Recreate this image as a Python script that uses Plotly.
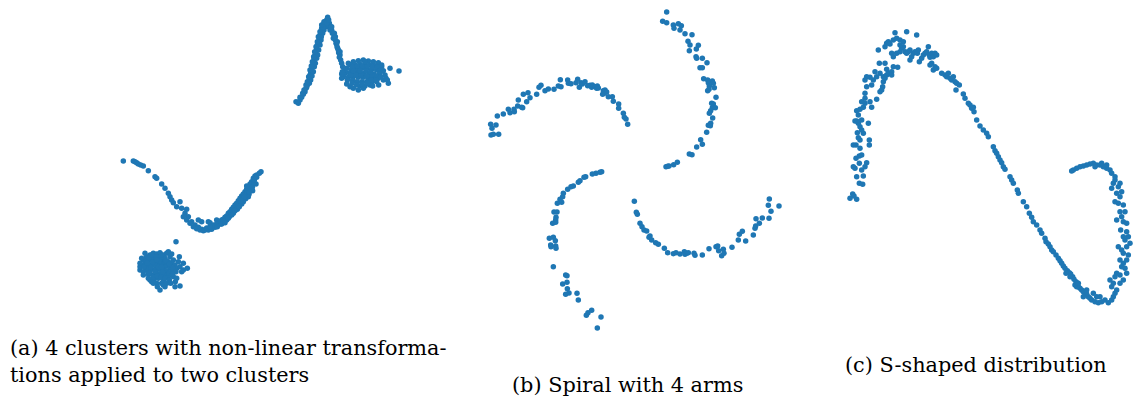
import plotly.graph_objects as go

W, H = 1133, 399
BLUE = "#1f77b4"

# ---------------- Panel (a): 4 clusters ----------------
a_vcurve = [(70,483),(100,483),(105,485),(110,488),(115,492),(122,495),(130,498),(145,512),(165,530),(170,535),
            (185,552),(195,565),(205,580),(210,590),(215,600),(220,608),(230,620),(240,605),(245,625),(255,640),
            (260,628),(265,650),(275,665),(285,675),(295,682),(305,688),(315,690),(325,690),(335,688),(345,682),
            (295,660),(305,665),(325,665),(330,668),(350,660),(355,670),(365,660),(375,652),(385,640),(395,628),
            (405,615),(415,602),(425,588),(435,575),(445,560),(455,545),(465,528),(483,515),(360,665),(370,658),
            (380,648),(390,635),(400,622),(410,610),(420,595),(430,582),(440,568),(450,552),(460,535),(470,525),
            (340,675),(350,672),(380,660),(395,640),(410,625),(420,610),(250,650),(260,660),(270,670),(280,680),
            (290,686),(300,690),(310,692),(320,684),(330,680),(362,672),(372,664),(388,650),(402,632),(415,618),
            (428,600),(442,580),(452,565),(462,548),(400,640),(412,628),(425,612),(437,596),(447,583),(457,562),
            (365,672),(375,668),(385,655),(395,645),(405,632),(418,620),(430,605),(445,590),(458,572),(468,552),
            (352,680),(440,558),(448,575),(463,540),(470,532),(478,520),(433,590),(423,602)]
a_blob1 = [(140,770),(150,765),(160,760),(170,762),(180,758),(190,765),(200,760),(210,770),(220,780),(130,780),
           (145,780),(155,778),(165,775),(175,772),(185,778),(195,775),(205,785),(215,790),(225,795),(125,795),
           (135,792),(148,795),(160,790),(172,788),(182,792),(192,790),(202,798),(212,805),(230,805),(120,810),
           (130,815),(142,810),(155,808),(168,805),(178,808),(190,805),(200,812),(215,815),(240,800),(245,815),
           (130,825),(145,822),(158,825),(170,820),(182,822),(195,825),(205,830),(220,830),(150,840),(162,838),
           (175,835),(190,840),(230,835),(155,845),(185,850),(195,860),(180,870),(240,858),(262,805),(228,725),
           (205,755),(125,775),(120,800),(165,795),(175,800),(185,800),(160,770),(200,795),(195,785),(140,800),
           (150,810),(210,800),(235,785),(250,810),(170,850),(138,785),(152,800),(188,815),(208,820),(165,815),
           (135,760),(147,772),(158,785),(168,770),(178,783),(188,770),(198,782),(208,792),(218,805),(228,815),
           (138,805),(148,818),(160,832),(172,828),(184,832),(196,835),(208,840),(218,822),(226,845),(120,790),
           (132,800),(145,835),(160,850),(172,860),(190,855),(200,850),(212,850),(225,860),(250,790),(238,770),
           (215,762),(185,765),(170,780),(155,765),(142,790)]
a_blob2 = [(760,185),(775,182),(790,180),(805,183),(820,185),(835,188),(750,195),(765,195),(780,193),(795,192),
           (810,195),(825,197),(845,200),(740,205),(755,208),(770,205),(785,205),(800,205),(815,208),(830,210),
           (850,212),(735,220),(748,218),(762,218),(778,218),(792,220),(808,220),(822,222),(838,222),(855,225),
           (730,230),(745,232),(760,230),(775,232),(790,232),(805,235),(820,235),(835,235),(770,245),(785,245),
           (800,245),(815,248),(830,245),(850,240),(865,250),(780,258),(795,258),(810,255),(750,260),(775,270),
           (790,265),(897,213),(725,235),(735,210),(768,212),(798,212),(828,228),(842,215),(758,240),(815,225),
           (745,190),(758,200),(772,198),(787,198),(802,198),(818,200),(832,202),(842,208),(752,225),(768,225),
           (784,225),(800,228),(814,240),(828,240),(842,230),(858,235),(742,240),(756,250),(770,255),(786,252),
           (802,250),(818,258),(836,255),(760,265),(845,195),(795,185),(812,215),(780,212),(760,212),
           (870,205),(862,240),(740,252),(725,222)]
a_peak = [(588,305),(595,310),(600,300),(605,292),(610,283),(615,275),(618,265),(622,255),(625,245),(628,235),
          (630,225),(632,215),(635,205),(638,195),(640,185),(642,175),(645,165),(648,155),(650,145),(652,135),
          (655,125),(658,115),(660,105),(662,95),(665,85),(668,78),(672,70),(675,65),(680,60),(683,52),
          (688,70),(690,78),(695,90),(700,100),(703,110),(706,120),(710,132),(713,145),(716,158),(722,180),
          (728,200),(727,215),(620,262),(628,250),(632,240),(636,228),(640,215),(643,200),(646,190),(650,175),
          (653,165),(656,150),(660,135),(663,120),(668,100),(672,90),(676,80),(685,80),(690,90),(697,100),
          (700,115),(708,130),(711,140),(715,150),(678,72),(684,66),(670,84),(664,110),(658,128),
          (600,292),(608,280),(612,270),(618,255),(622,245),(626,230),(630,210),(634,198),(637,185),(641,170),
          (644,155),(648,140),(652,125),(655,110),(660,95),(665,75),(672,65),(680,68),(686,60),(692,85),
          (695,80),(703,100),(706,110),(712,125),(720,165),(718,172),(725,190),(720,155)]

# ---------------- Panel (b): spiral with 4 arms ----------------
b_arm1 = [(62,373),(66,385),(78,375),(63,405),(70,403),(86,403),(82,348),(100,342),(115,328),(120,338),
          (132,328),(133,335),(145,300),(143,318),(155,322),(158,323),(160,283),(170,305),(174,278),(180,293),
          (200,283),(207,262),(213,256),(225,272),(235,267),(252,268),(265,258),(273,260),(271,239),(293,240),
          (295,250),(303,251),(318,248),(323,238),(328,262),(333,248),(337,252),(345,245),(353,257),(360,256),
          (365,262),(367,255),(377,260),(380,265),(382,258),(385,264),(398,283),(400,272),(403,280),(405,270),
          (410,276),(415,290),(427,290),(430,304),(446,312),(446,325),(460,340),(463,352),(468,357),(473,373)]
b_arm2 = [(590,36),(578,64),(590,68),(610,75),(612,85),(625,71),(634,77),(630,90),(645,101),(666,104),
          (654,124),(660,135),(685,136),(679,147),(658,152),(678,170),(680,175),(697,175),(711,188),(690,203),
          (697,203),(701,236),(713,240),(727,243),(715,248),(730,250),(718,258),(733,263),(713,272),(717,268),
          (738,292),(725,310),(730,312),(727,323),(736,323),(722,332),(718,340),(728,354),(722,370),(715,376),
          (721,377),(710,397),(692,419),(697,433),(680,441),(658,462),(666,464),(622,487),(611,494),(597,498),
          (588,500),(593,499)]
b_arm3 = [(395,515),(390,517),(378,520),(367,522),(347,530),(342,532),(330,542),(325,547),(310,558),(303,560),
          (293,568),(280,580),(278,590),(270,598),(262,610),(275,607),(252,636),(261,636),(258,652),(257,660),
          (248,670),(257,667),(238,715),(250,712),(256,722),(242,735),(243,740),(257,738),(258,745),(250,800),
          (287,825),(291,827),(278,852),(291,847),(292,866),(297,879),(287,883),(321,880),(325,900),(349,946),
          (354,938),(365,931),(393,951),(382,984)]
b_arm4 = [(493,604),(499,637),(502,643),(510,670),(516,680),(522,690),(530,693),(540,708),(537,712),(545,720),
          (557,728),(565,733),(583,745),(593,758),(610,761),(618,758),(630,762),(643,755),(645,763),(650,760),
          (655,758),(672,760),(675,766),(697,765),(717,746),(738,740),(743,738),(746,752),(755,767),(760,748),
          (762,760),(786,742),(805,720),(808,703),(817,694),(827,723),(850,705),(855,685),(857,678),(858,656),
          (868,670),(877,654),(897,655),(895,616),(898,597),(903,634),(927,618)]

# ---------------- Panel (c): S-shaped distribution ----------------
c_left = [(60,535),(68,522),(80,538),(72,528),(88,490),(98,493),(80,470),(100,468),(95,450),(105,440),
          (110,428),(75,445),(70,440),(88,430),(78,415),(88,408),(95,405),(90,385),(78,375),(70,375),
          (90,360),(85,353),(118,375),(118,360),(100,340),(82,338),(95,330),(90,320),(85,310),(80,303),
          (75,303),(95,300),(115,310),(85,285),(80,272),(90,268),(100,262),(105,250),(95,245),(105,235),
          (120,245),(125,262),(140,238),(105,220),(110,200),(125,195),(130,180),(120,172),(110,170),(105,180),
          (150,215),(155,210),(158,200),(160,185),(160,170),(165,175),(170,165),(150,160),(140,170),(135,155),
          (148,130),(165,130),(170,148),(175,160),(185,155),(185,165),(190,140),(203,142),(145,90),(165,80),
          (170,70),(175,65),(180,72),(190,60),(200,55),(195,38),(210,60),(220,65),(230,35),(260,45),
          (185,100),(190,110),(200,100),(210,95),(215,85),(220,80),(210,75),(225,95),(230,100),(235,95),
          (240,90),(240,120),(245,110),(250,100),(255,95),(262,100),(265,90),(268,125),(275,115),(280,105),
          (285,100),(290,95),(295,80),(298,105),(300,112),(305,100),(310,110),(315,100),(320,105),(305,130),
          (300,135),(315,140),(310,150),(320,145)]
c_diag = [(335,160),(345,165),(350,170),(355,160),(360,175),(365,180),(370,170),(375,185),(380,190),(378,210),
          (388,195),(400,222),(405,235),(415,250),(420,255),(425,265),(430,262),(432,275),(440,300),(450,318),
          (460,330),(470,340),(475,350),(490,380),(495,392),(500,400),(505,410),(510,420),(515,428),(520,440),
          (525,448),(540,470),(545,480),(550,490),(562,510),(565,520),(580,545),(590,560),(598,580),(605,592),
          (610,605),(620,615),(630,630),(635,640),(645,655),(648,665),(655,672),(660,680),(665,690),(670,695),
          (678,705),(685,715),(690,722),(695,730),(700,738),(705,745),(712,752),(718,758),(722,762),(728,770),
          (732,778),(738,785),(742,790),(745,800),(750,805),(755,810),(760,815),(765,820),(770,822),(775,830),
          (780,835),(785,840),(795,845),(805,848),(815,845),(825,840),(835,848),(845,840),(850,830),(855,820),
          (740,800),(735,795),(745,790),(760,830),(790,820),(800,830),(810,830),(720,770),(708,760),(770,810)]
c_right = [(860,810),(845,800),(850,790),(840,780),(855,770),(860,760),(870,765),(880,780),(875,740),(885,745),
           (880,730),(870,720),(890,720),(880,700),(895,705),(875,690),(890,680),(900,670),(885,660),(880,650),
           (895,650),(872,630),(890,635),(880,605),(875,590),(870,575),(885,575),(880,555),(865,550),(870,530),
           (860,520),(875,515),(865,500),(870,490),(850,490),(855,480),(855,470),(845,460),(840,450),(830,445),
           (820,440),(810,435),(800,435),(790,430),(780,432),(770,435),(760,438),(750,440),(740,445),(730,450),
           (725,453),(845,505),(855,545),(860,600),(890,610),(865,680),(890,760),(870,790),(830,435),(815,430),
           (795,440)]

captions_a = "(a) 4 clusters with non-linear transforma-<br>tions applied to two clusters"
caption_b = "(b) Spiral with 4 arms"
caption_c = "(c) S-shaped distribution"

SERIF = "DejaVu Serif"

def xs(pts):
    return [p[0] for p in pts]

def ys(pts):
    return [p[1] for p in pts]

fig = go.Figure()
panels = [
    ("x", "y", a_vcurve + a_blob1 + a_blob2 + a_peak),
    ("x2", "y2", b_arm1 + b_arm2 + b_arm3 + b_arm4),
    ("x3", "y3", c_left + c_diag + c_right),
]
for xa, ya, pts in panels:
    fig.add_trace(go.Scatter(x=xs(pts), y=ys(pts), xaxis=xa, yaxis=ya, mode="markers",
                             marker=dict(size=5.5, color=BLUE, line=dict(width=0)),
                             showlegend=False, hoverinfo="skip"))

def ax(domain, rng, anchor):
    return dict(domain=domain, range=rng, visible=False, anchor=anchor, fixedrange=True)

# panel pixel boxes: a (100..420, 0..310), b (470..790, 0..340), c (830..1133, 20..320)
fig.update_layout(
    width=W, height=H, margin=dict(l=0, r=0, t=0, b=0),
    paper_bgcolor="white", plot_bgcolor="white",
    xaxis=ax([100/W, 420/W], [0, 960], "y"),
    yaxis=ax([1-310/H, 1], [930, 0], "x"),
    xaxis2=ax([470/W, 790/W], [0, 960], "y2"),
    yaxis2=ax([1-340/H, 1], [1020, 0], "x2"),
    xaxis3=ax([830/W, 1.0], [0, 909], "y3"),
    yaxis3=ax([1-320/H, 1-20/H], [900, 0], "x3"),
    font=dict(family=SERIF, color="black"),
)

def ann(text, x_px, y_px, xanchor, align="left"):
    fig.add_annotation(text=text, x=x_px/W, y=1-y_px/H, xref="paper", yref="paper",
                       xanchor=xanchor, yanchor="middle", align=align, showarrow=False,
                       font=dict(size=20.8, family=SERIF, color="black"))

ann(captions_a, 8, 361, "left")
ann(caption_b, 627, 385, "center", "center")
ann(caption_c, 976, 365, "center", "center")

fig.write_html("out.html")
